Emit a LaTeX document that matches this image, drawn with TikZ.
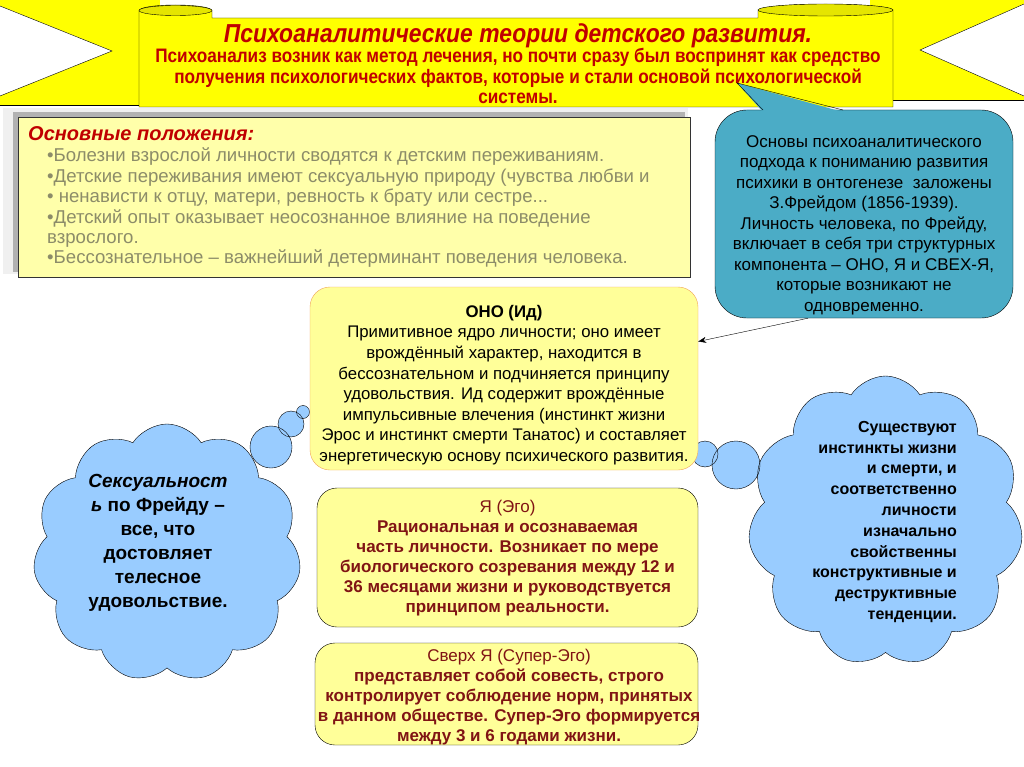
\documentclass[tikz,border=0pt]{standalone}
\usepackage{fontspec}
\setmainfont{Liberation Sans}
\newfontfamily\narrowfont[FakeStretch=0.88]{Liberation Sans}
\usetikzlibrary{shapes.symbols,arrows.meta,calc}
\definecolor{banner}{RGB}{255,255,0}
\definecolor{titlered}{RGB}{192,0,0}
\definecolor{paleyellow}{RGB}{255,255,170}
\definecolor{boxyellow}{RGB}{255,255,153}
\definecolor{calloutteal}{RGB}{75,172,198}
\definecolor{cloudblue}{RGB}{153,204,255}
\definecolor{bullgray}{RGB}{140,140,105}
\definecolor{egored}{RGB}{128,20,20}
\definecolor{onoborder}{RGB}{240,165,90}
\tikzset{
  cloudshape/.style={cloud, cloud puffs=11, cloud puff arc=115, cloud ignores aspect, inner sep=0pt},
  bubble/.style={circle, fill=cloudblue, inner sep=0pt},
  ybox/.style={rounded corners=20pt, fill=boxyellow, inner sep=0pt},
  blk/.style={inner sep=0pt, align=center},
}
\begin{document}
\begin{tikzpicture}[x=1pt,y=-1pt]
\useasboundingbox (0,0) rectangle (1024,767);
\fill[white] (0,0) rectangle (1024,767);

% ---- banner ears
\fill[banner] (0,-5) rectangle (160,105);
\draw (0,105) -- (160,105);
\fill[white] (0,6) -- (112,51) -- (0,96) -- cycle;
\draw (0,6) -- (112,51) -- (0,96);
\fill[banner] (870,-5) rectangle (1024,100);
\draw (870,100) -- (1024,100);
\fill[white] (1024,4) -- (920,50) -- (1024,96) -- cycle;
\draw (1024,4) -- (920,50) -- (1024,96);

% ---- main banner
\draw[fill=banner] (139,107) -- (139,11) .. controls (139,3) and (212,3) .. (212,11) -- (212,18) -- (758,18) -- (758,11) .. controls (758,2) and (893,2) .. (893,11) -- (893,107) -- cycle;
\draw[fill=banner!90!black] (175.5,10.5) ellipse (36.5 and 5);
\draw[fill=banner!90!black] (825.5,10) ellipse (67.5 and 6);
\node[inner sep=0pt, font=\narrowfont\bfseries\itshape\fontsize{26}{30}\selectfont, text=titlered] (btitle) at (518,36) {Психоаналитические теории детского развития.};
\node[blk, font=\narrowfont\bfseries\fontsize{19.5}{20.5}\selectfont, text=titlered] (bsub) at (518,76) {Психоанализ возник как метод лечения, но почти сразу был воспринят как средство\\получения психологических фактов, которые и стали основой психологической\\системы.};

% ---- left box
\fill[gray!12] (3,108) rectangle (688,274);
\fill[gray!60] (13,112) rectangle (685,272);
\node[draw=black!80, fill=paleyellow, minimum width=672pt, minimum height=160pt, anchor=north west, inner sep=0pt] (mainbox) at (18,117) {};
\node[anchor=west, inner sep=0pt, font=\bfseries\itshape\fontsize{20}{22}\selectfont, text=titlered] (mtitle) at (28,134) {Основные положения:};
\node[anchor=west, inner sep=0pt, align=left, font=\fontsize{18.6}{20.4}\selectfont, text=bullgray] (mlist) at (47,208) {•Болезни взрослой личности сводятся к детским переживаниям.\\•Детские переживания имеют сексуальную природу (чувства любви и\\• ненависти к отцу, матери, ревность к брату или сестре...\\•Детский опыт оказывает неосознанное влияние на поведение\\взрослого.\\•Бессознательное – важнейший детерминант поведения человека.};

% ---- teal callout
\node[draw, fill=calloutteal, rounded corners=32pt, minimum width=298pt, minimum height=208pt, inner sep=0pt] (callout) at (864,214) {};
\fill[calloutteal] (763,112) -- (737,83) -- (843,112) -- cycle;
\draw (763,110) -- (737,83) -- (843,110);
\node[blk, font=\fontsize{17}{20.5}\selectfont] (calltext) at (864,225) {Основы психоаналитического\\подхода к пониманию развития\\психики в онтогенезе\ \ заложены\\З.Фрейдом (1856-1939).\\Личность человека, по Фрейду,\\включает в себя три структурных\\компонента – ОНО, Я и СВЕХ-Я,\\которые возникают не\\одновременно.};

% ---- clouds
\node[cloudshape, fill=cloudblue, minimum width=268pt, minimum height=258pt] (lcloud) at (167,553) {};
\node[bubble, minimum size=42pt] (lb1) at (271,447) {};
\node[bubble, minimum size=26pt] (lb2) at (291,424) {};
\node[bubble, minimum size=13pt] (lb3) at (303,412) {};
\node[cloudshape, draw, minimum width=268pt, minimum height=258pt] (lcloudline) at (167,553) {};
\draw (lb1) circle (21); \draw (lb2) circle (13); \draw (lb3) circle (6.5);

\node[cloudshape, fill=cloudblue, minimum width=275pt, minimum height=290pt] (rcloud) at (885.5,521) {};
\node[bubble, minimum size=26pt] (rb1) at (705,454) {};
\node[bubble, minimum size=48pt] (rb2) at (736,465) {};
\node[cloudshape, draw, minimum width=275pt, minimum height=290pt] (rcloudline) at (885.5,521) {};
\draw (rb1) circle (13); \draw (rb2) circle (24);

\node[blk, font=\bfseries\fontsize{19}{24}\selectfont] (ltext) at (158,543) {\textit{Сексуальност}\\\textit{ь} по Фрейду –\\все, что\\достовляет\\телесное\\удовольствие.};
\node[inner sep=0pt, align=right, anchor=east, font=\bfseries\fontsize{16}{20.8}\selectfont] (rtext) at (957,522) {Существуют\\инстинкты жизни\\и смерти, и\\соответственно\\личности\\изначально\\свойственны\\конструктивные и\\деструктивные\\тенденции.};

% ---- ONO box
\node[ybox, draw=onoborder, minimum width=388pt, minimum height=183pt] (ono) at (504,378.5) {};
\node[blk, font=\fontsize{16.8}{20.6}\selectfont] (onotext) at (504,385) {\textbf{ОНО (Ид)}\\Примитивное ядро личности; оно имеет\\врождённый характер, находится в\\бессознательном и подчиняется принципу\\удовольствия. Ид содержит врождённые\\импульсивные влечения (инстинкт жизни\\Эрос и инстинкт смерти Танатос) и составляет\\энергетическую основу психического развития.};

% ---- EGO box
\node[ybox, draw, minimum width=381pt, minimum height=139pt] (ego) at (507.5,557.5) {};
\node[blk, font=\bfseries\fontsize{17}{20}\selectfont, text=egored] (egotext) at (507.5,558) {\mdseries Я (Эго)\\Рациональная и осознаваемая\\часть личности. Возникает по мере\\биологического созревания между 12 и\\36 месяцами жизни и руководствуется\\принципом реальности.};

% ---- SUPER-EGO box
\node[ybox, draw, minimum width=383pt, minimum height=102pt] (sego) at (506.5,694) {};
\node[blk, font=\bfseries\fontsize{17}{20}\selectfont, text=egored] (segotext) at (509,697.5) {\mdseries Сверх Я (Супер-Эго)\\представляет собой совесть, строго\\контролирует соблюдение норм, принятых\\в данном обществе. Супер-Эго формируется\\между 3 и 6 годами жизни.};

% ---- arrow
\draw[-{Stealth[length=8pt,width=6pt]}] ([xshift=-56pt]callout.south) -- ([yshift=37pt]ono.east);
\end{tikzpicture}
\end{document}
